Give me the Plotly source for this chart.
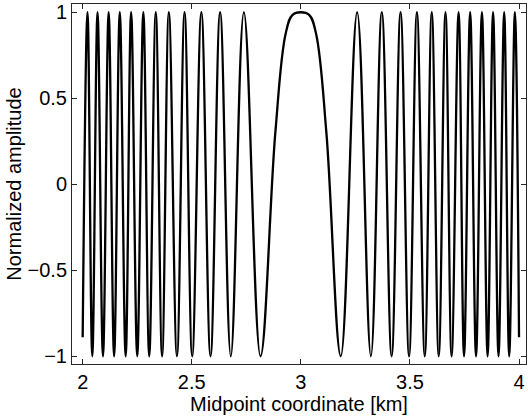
import plotly.graph_objects as go

# Positions (km) of the crests and troughs of the symmetric chirp
crest_km = [2.022, 2.068, 2.119, 2.170, 2.222, 2.278, 2.335, 2.395, 2.467, 2.544,
            2.630, 2.739, 3.000, 3.258, 3.371, 3.457, 3.532, 3.600, 3.663, 3.723,
            3.776, 3.830, 3.881, 3.932, 3.981]
trough_km = [2.044, 2.093, 2.144, 2.197, 2.250, 2.305, 2.364, 2.432, 2.502, 2.586,
             2.679, 2.815, 3.183, 3.321, 3.416, 3.496, 3.568, 3.632, 3.691, 3.748,
             3.803, 3.856, 3.906, 3.955]
# Shoulders of the broad, flat-topped central lobe
lobe_km = [2.883, 2.931, 2.962, 3.038, 3.069, 3.117]
lobe_amp = [0.30, 0.88, 0.985, 0.985, 0.88, 0.30]
# Values at the ends of the profile
edge_km = [2.0, 4.0]
edge_amp = [-0.89, -0.89]

x_ticks = [2, 2.5, 3, 3.5, 4]
x_tick_text = ["2", "2.5", "3", "3.5", "4"]
y_ticks = [-1, -0.5, 0, 0.5, 1]
y_tick_text = ["\u22121", "\u22120.5", "0", "0.5", "1"]

pts = ([(x, 1.0) for x in crest_km] + [(x, -1.0) for x in trough_km]
       + list(zip(lobe_km, lobe_amp)) + list(zip(edge_km, edge_amp)))
pts.sort()
xs = [p[0] for p in pts]
ys = [p[1] for p in pts]

fig = go.Figure()
fig.add_trace(go.Scatter(
    x=xs, y=ys, mode="lines",
    line=dict(color="black", width=2.3, shape="spline", smoothing=1.1),
    hoverinfo="skip", showlegend=False,
))

font = dict(family="Liberation Sans, Arial, sans-serif", size=20, color="black")
axis_common = dict(
    showline=True, linecolor="#262626", linewidth=1, mirror="ticks",
    ticks="inside", ticklen=5, tickwidth=1, tickcolor="#262626",
    showgrid=False, zeroline=False, tickfont=font,
)

fig.update_layout(
    width=528, height=417,
    margin=dict(l=72, r=2, t=4, b=53),
    paper_bgcolor="white", plot_bgcolor="white",
    font=font,
    xaxis=dict(range=[1.951, 4.032], tickvals=x_ticks, ticktext=x_tick_text,
               title=dict(text="Midpoint coordinate [km]", font=font, standoff=0),
               **axis_common),
    yaxis=dict(range=[-1.045, 1.048], tickvals=y_ticks, ticktext=y_tick_text,
               title=dict(text="Normalized amplitude", font=font, standoff=0),
               **axis_common),
)

fig.write_html("out.html")
